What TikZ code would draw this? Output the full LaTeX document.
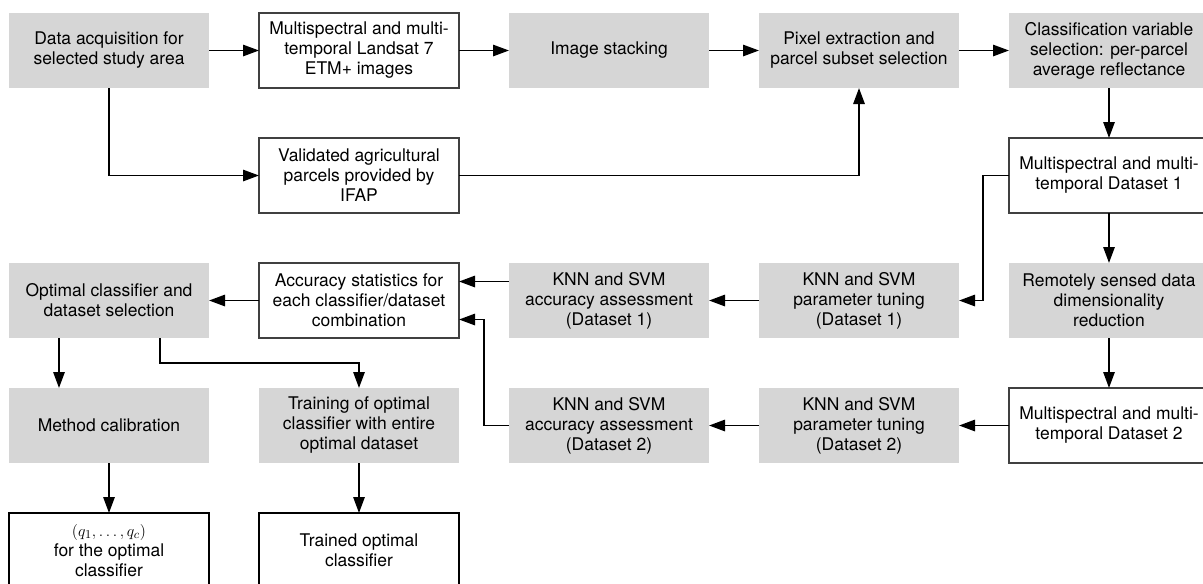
\documentclass[tikz,border=0pt]{standalone}
\usepackage{amsmath}
\usepackage{fontspec}
\setmainfont{TeX Gyre Heros}
\usetikzlibrary{arrows.meta,positioning}
\definecolor{boxgray}{RGB}{214,214,214}

\begin{document}
\begin{tikzpicture}[
  node distance=37.5pt and 37.5pt,
  base/.style={align=center, minimum width=150pt, minimum height=56.25pt, inner sep=0pt, outer sep=0pt, font=\fontsize{13.1}{15}\selectfont},
  gbox/.style={base, fill=boxgray},
  wbox/.style={base, draw=black!75, line width=0.8pt, fill=white},
  resbox/.style={base, draw, line width=2.2pt},
  arr/.style={-{Triangle[length=12pt,width=8.5pt]}, line width=1.4pt}
]
\clip (0,0) rectangle (902.25pt,-437.25pt);
\node[gbox] (acq) at (81.75pt,-37.875pt) {Data acquisition for\\ selected study area};
\node[wbox, right=of acq] (land) {Multispectral and multi-\\ temporal Landsat 7\\ ETM+ images};
\node[gbox, right=of land] (stack) {Image stacking};
\node[gbox, right=of stack] (pixel) {Pixel extraction and\\ parcel subset selection};
\node[gbox, right=of pixel] (varsel) {Classification variable\\ selection: per-parcel\\ average reflectance};
\node[wbox, below=of land] (ifap) {Validated agricultural\\ parcels provided by\\ IFAP};
\node[wbox, below=of varsel] (ds1) {Multispectral and multi-\\ temporal Dataset 1};
\node[wbox, below=of ifap] (stats) {Accuracy statistics for\\ each classifier/dataset\\ combination};
\node[gbox, left=of stats] (optsel) {Optimal classifier and\\ dataset selection};
\node[gbox, right=of stats] (assess1) {KNN and SVM\\ accuracy assessment\\ (Dataset 1)};
\node[gbox, right=of assess1] (tune1) {KNN and SVM\\ parameter tuning\\ (Dataset 1)};
\node[gbox, below=of ds1] (reduce) {Remotely sensed data\\ dimensionality\\ reduction};
\node[gbox, below=of optsel] (calib) {Method calibration};
\node[gbox, below=of stats] (train) {Training of optimal\\ classifier with entire\\ optimal dataset};
\node[gbox, below=of assess1] (assess2) {KNN and SVM\\ accuracy assessment\\ (Dataset 2)};
\node[gbox, below=of tune1] (tune2) {KNN and SVM\\ parameter tuning\\ (Dataset 2)};
\node[wbox, below=of reduce] (ds2) {Multispectral and multi-\\ temporal Dataset 2};
\node[resbox, below=of calib] (qres) {$(q_1,\dots,q_c)$\\ for the optimal\\ classifier};
\node[resbox, below=of train] (trained) {Trained optimal\\ classifier};

\draw[arr] (acq) -- (land);
\draw[arr] (land) -- (stack);
\draw[arr] (stack) -- (pixel);
\draw[arr] (pixel) -- (varsel);
\draw[arr] (acq.south) |- (ifap.west);
\draw[arr] (ifap.east) -| (pixel.south);
\draw[arr] (varsel) -- (ds1);
\draw[arr] (ds1) -- (reduce);
\draw[arr] (reduce) -- (ds2);
\draw[arr] (ds1.west) -- ++(-19.5pt,0) |- (tune1.east);
\draw[arr] (ds2) -- (tune2);
\draw[arr] (tune1) -- (assess1);
\draw[arr] (tune2) -- (assess2);
\draw[arr] ([yshift=14.25pt]assess1.west) -- ([yshift=14.25pt]stats.east);
\draw[arr] (assess2.west) -- ++(-18.75pt,0) |- ([yshift=-14.25pt]stats.east);
\draw[arr] (stats) -- (optsel);
\draw[arr] ([xshift=-37.5pt]optsel.south) -- ([xshift=-37.5pt]calib.north);
\draw[arr] ([xshift=38.25pt]optsel.south) -- ++(0,-18.75pt) -| (train.north);
\draw[arr] (calib) -- (qres);
\draw[arr] (train) -- (trained);

\end{tikzpicture}
\end{document}
